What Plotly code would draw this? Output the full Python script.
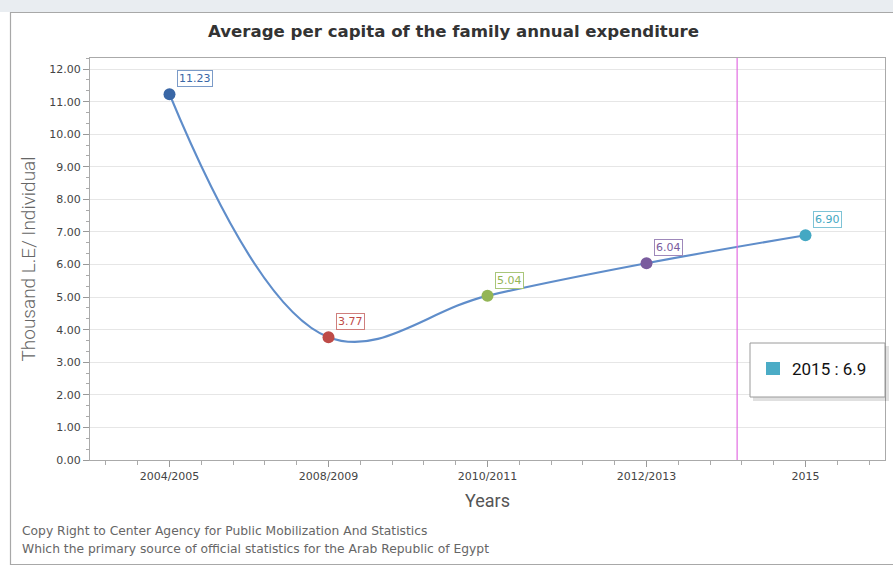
import plotly.graph_objects as go

categories = ["2004/2005", "2008/2009", "2010/2011", "2012/2013", "2015"]
values = [11.23, 3.77, 5.04, 6.04, 6.90]
labels = ["11.23", "3.77", "5.04", "6.04", "6.90"]
point_colors = ["#3a67a6", "#be4b48", "#93b555", "#7a5c9e", "#44a8c3"]
box_colors = ["#7b9bc8", "#cf7f7d", "#a9c67a", "#9e88ba", "#7ec3d6"]
cursor_x = 3.57
tooltip_text = "2015 : 6.9"

W, H = 893, 567
L, R, T, B = 90, 8, 58, 107
pw, ph = W - L - R, H - T - B

def px(x):
    return (x - L) / pw

def py(y):
    return (H - B - y) / ph

xs = list(range(len(categories)))

fig = go.Figure()
fig.add_trace(go.Scatter(
    x=xs, y=values, mode="lines+markers",
    line=dict(color="#5f8dca", width=2.2, shape="spline", smoothing=1.1),
    marker=dict(size=12, color=point_colors, line=dict(width=0)),
    hoverinfo="skip", showlegend=False,
))

for i, (v, lab) in enumerate(zip(values, labels)):
    fig.add_annotation(
        x=xs[i], y=v, xref="x", yref="y", text=lab, showarrow=False,
        xanchor="left", yanchor="bottom", xshift=7, yshift=7,
        font=dict(family="DejaVu Sans", size=11, color=point_colors[i]),
        bgcolor="white", bordercolor=box_colors[i], borderwidth=1, borderpad=1,
    )

shapes = [
    dict(type="rect", xref="paper", yref="paper", x0=px(0), x1=px(W), y0=py(0), y1=py(12),
         fillcolor="#e9edf1", line=dict(width=0), layer="below"),
    dict(type="rect", xref="paper", yref="paper", x0=px(10.5), x1=px(W + 5), y0=py(12.5), y1=py(564.5),
         fillcolor="rgba(0,0,0,0)", line=dict(color="#a8a8a8", width=1.2), layer="below"),
    dict(type="line", xref="x", yref="paper", x0=cursor_x, x1=cursor_x, y0=0, y1=1,
         line=dict(color="#e26de2", width=1.2)),
    dict(type="rect", xref="paper", yref="paper", x0=px(753), x1=px(889), y0=py(401), y1=py(346),
         fillcolor="rgba(0,0,0,0.12)", line=dict(width=0)),
    dict(type="rect", xref="paper", yref="paper", x0=px(750), x1=px(885), y0=py(397), y1=py(343),
         fillcolor="white", line=dict(color="#9a9a9a", width=1)),
    dict(type="rect", xref="paper", yref="paper", x0=px(766), x1=px(780), y0=py(375), y1=py(362),
         fillcolor="#4bacc6", line=dict(width=0)),
]

fig.add_annotation(
    x=px(790), y=py(369), xref="paper", yref="paper", text=tooltip_text, showarrow=False,
    xanchor="left", yanchor="middle", font=dict(family="Roboto", size=17, color="#111"),
)

fig.add_annotation(
    x=px(20), y=py(531), xref="paper", yref="paper", showarrow=False, xanchor="left", yanchor="middle",
    text="Copy Right to Center Agency for Public Mobilization And Statistics",
    font=dict(family="DejaVu Sans", size=12.3, color="#666"),
)
fig.add_annotation(
    x=px(20), y=py(549), xref="paper", yref="paper", showarrow=False, xanchor="left", yanchor="middle",
    text="Which the primary source of official statistics for the Arab Republic of Egypt",
    font=dict(family="DejaVu Sans", size=12.3, color="#666"),
)

fig.update_layout(
    width=W, height=H,
    margin=dict(l=L, r=R, t=T, b=B),
    paper_bgcolor="white", plot_bgcolor="white",
    shapes=shapes,
    title=dict(text="<b>Average per capita of the family annual expenditure</b>",
               xref="container", x=453.5 / W, xanchor="center", y=1 - 31 / H, yanchor="middle",
               font=dict(family="DejaVu Sans", size=16.6, color="#333")),
)

fig.update_xaxes(
    range=[-0.5, 4.5], tickvals=xs, ticktext=categories,
    tickfont=dict(family="DejaVu Sans", size=11, color="#444"),
    ticks="outside", ticklen=6, tickcolor="#999",
    minor=dict(dtick=0.2, tick0=0, ticks="outside", ticklen=4, tickcolor="#aaa", showgrid=False),
    showline=True, linecolor="#aaa", mirror=True, showgrid=False, zeroline=False,
    title=dict(text="Years", font=dict(family="Roboto", size=18, color="#555"), standoff=12),
)
fig.update_yaxes(
    range=[0, 12.34], dtick=1, tick0=0, tickformat=".2f",
    tickfont=dict(family="DejaVu Sans", size=11, color="#444"),
    ticks="outside", ticklen=6, tickcolor="#999",
    minor=dict(dtick=1/3, tick0=0, ticks="outside", ticklen=3, tickcolor="#aaa", showgrid=False),
    showline=True, linecolor="#aaa", mirror=True, gridcolor="#e6e6e6", zeroline=False,
    title=dict(text="Thousand L.E/ Individual", font=dict(family="Roboto", size=19, color="#666", weight=300), standoff=8),
)

fig.write_html("out.html")
